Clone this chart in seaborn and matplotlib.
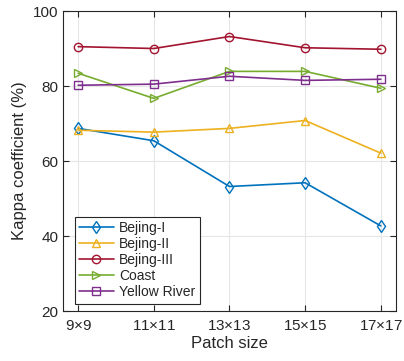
import pandas as pd
import seaborn as sns
import matplotlib.pyplot as plt

patch_sizes = ['9$\\times$9', '11$\\times$11', '13$\\times$13', '15$\\times$15', '17$\\times$17']
bejing_1 = [68.7, 65.4, 53.2, 54.2, 42.7]
bejing_2 = [68.2, 67.7, 68.7, 70.8, 62.1]
bejing_3 = [90.5, 90.0, 93.2, 90.2, 89.8]
coast = [83.4, 76.7, 83.9, 83.9, 79.4]
yellow_river = [80.2, 80.5, 82.6, 81.5, 81.8]

series = {
    'Bejing-I': bejing_1,
    'Bejing-II': bejing_2,
    'Bejing-III': bejing_3,
    'Coast': coast,
    'Yellow River': yellow_river,
}
colors = ['#0072BD', '#EDB120', '#A2142F', '#77AC30', '#7E2F8E']
markers = ['d', '^', 'o', '>', 's']

sns.set_style('ticks')
plt.rcParams['font.family'] = ['Liberation Sans', 'DejaVu Sans']
plt.rcParams['mathtext.fontset'] = 'custom'
plt.rcParams['mathtext.rm'] = 'Liberation Sans'

fig = plt.figure(figsize=(4.04, 3.61), dpi=100)
ax = fig.add_axes([0.156, 0.1385, 0.824, 0.831])

for (name, vals), c, m in zip(series.items(), colors, markers):
    df = pd.DataFrame({'x': range(len(patch_sizes)), 'kappa': vals})
    sns.lineplot(data=df, x='x', y='kappa', ax=ax, color=c, marker=m,
                 markersize=6, mfc='none', mec=c, mew=1.0, linewidth=1.2,
                 label=name)

ax.set_xlim(-0.2, 4.2)
ax.set_ylim(20, 100)
ax.set_xticks(range(len(patch_sizes)))
ax.set_xticklabels(patch_sizes)
ax.set_yticks([20, 40, 60, 80, 100])
ax.tick_params(direction='in', labelsize=11, colors='#262626', length=4,
               top=True, right=True)
ax.tick_params(axis='x', pad=6)
ax.grid(True, color='#e6e6e6', linewidth=0.8)
ax.set_axisbelow(True)
for s in ax.spines.values():
    s.set_color('#262626')
    s.set_linewidth(0.8)
ax.set_xlabel('Patch size', fontsize=12, color='#262626', labelpad=2)
ax.set_ylabel('Kappa coefficient (%)', fontsize=12, color='#262626', labelpad=4)

leg = ax.legend(loc='lower left', bbox_to_anchor=(0.035, 0.025), fontsize=10,
                frameon=True, fancybox=False, borderpad=0.3, labelspacing=0.15,
                handlelength=2.5, handletextpad=0.4, borderaxespad=0)
leg.get_frame().set_edgecolor('#262626')
leg.get_frame().set_linewidth(0.8)
leg.get_frame().set_alpha(1)

fig.savefig('out.png', dpi=100)
